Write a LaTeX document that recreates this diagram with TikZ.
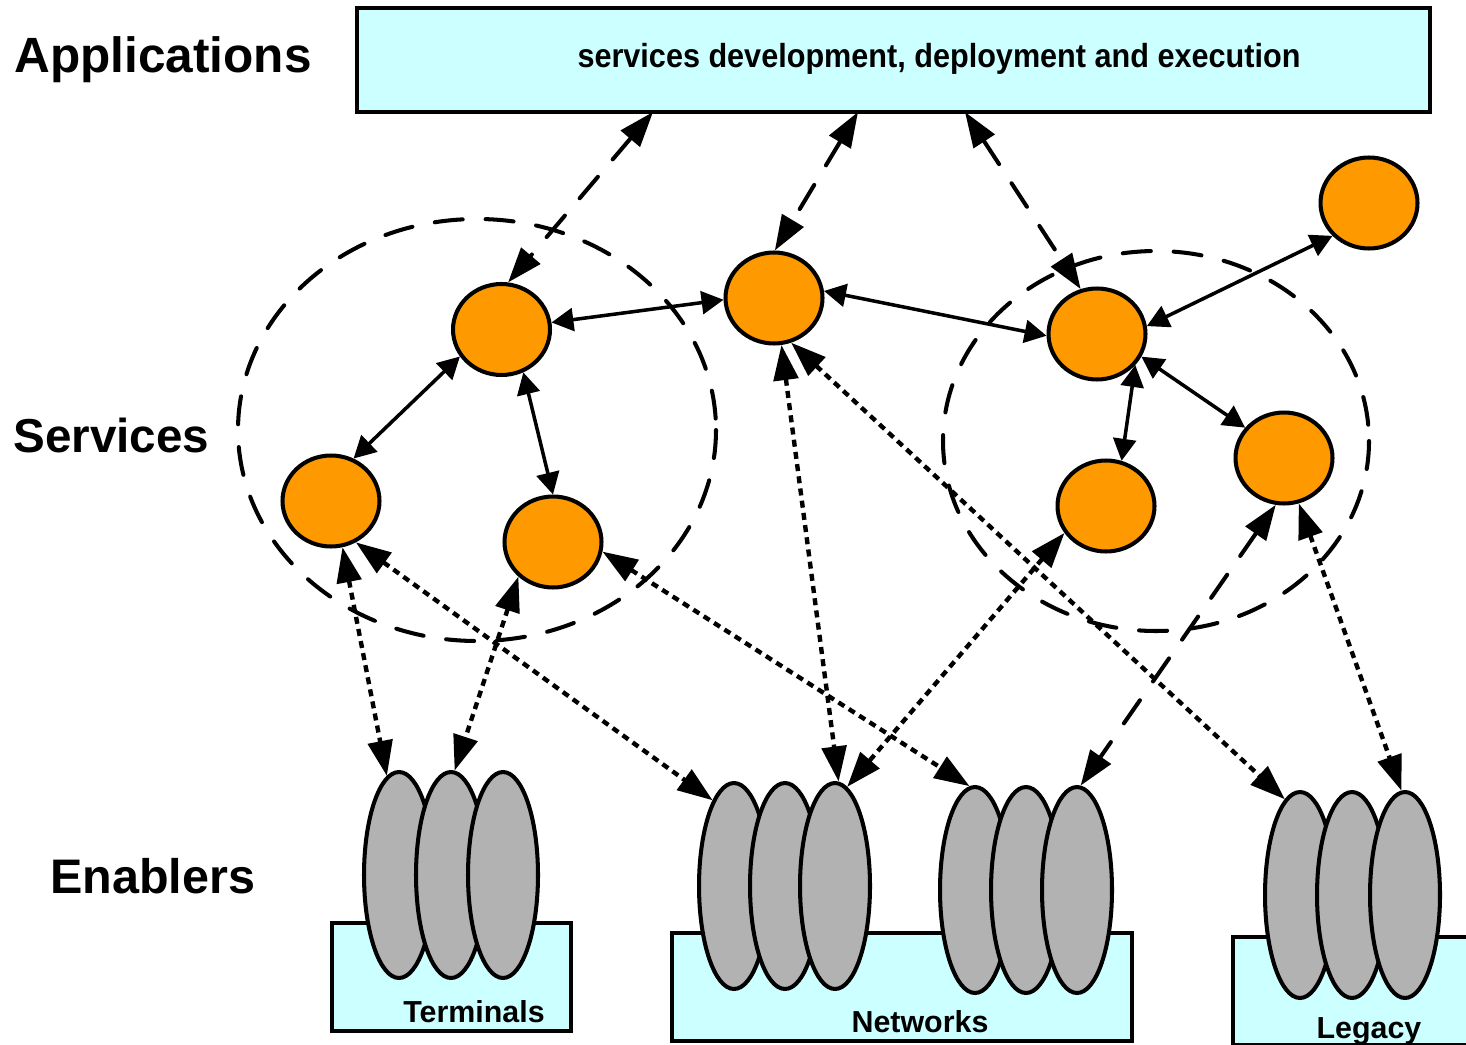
\documentclass[tikz,border=0pt]{standalone}
\usepackage{fontspec}
\setmainfont{Liberation Sans}
\usetikzlibrary{arrows.meta,shapes.geometric}
\definecolor{boxcyan}{HTML}{CCFFFF}
\definecolor{orng}{HTML}{FF9900}
\definecolor{greyfill}{HTML}{B2B2B2}
\begin{document}
\begin{tikzpicture}[x=0.02cm,y=-0.02cm,
  lw/.style={line width=2.3pt},
  cyanbox/.style={draw, lw, fill=boxcyan, rectangle, inner sep=0pt},
  svc/.style={ellipse, draw, lw, fill=orng, minimum width=1.94cm, minimum height=1.82cm, inner sep=0pt},
  enb/.style={ellipse, draw, lw, fill=greyfill, minimum width=1.40cm, minimum height=4.12cm, inner sep=0pt},
  group/.style={draw, lw, dash pattern=on 16pt off 13pt, line cap=round},
  bigtips/.style={{Triangle[length=20pt,width=14pt]}-{Triangle[length=20pt,width=14pt]}},
  smalltips/.style={{Triangle[length=12.5pt,width=13pt]}-{Triangle[length=12.5pt,width=13pt]}},
  slink/.style={line width=2pt, smalltips},
  dlink/.style={lw, bigtips, dash pattern=on 16pt off 13pt, line cap=round},
  plink/.style={line width=2.5pt, bigtips, dash pattern=on 4pt off 3pt},
  biglabel/.style={font=\fontsize{27.6}{30}\selectfont\bfseries, inner sep=0pt, anchor=base west},
  boxlabel/.style={font=\fontsize{17.3}{20}\selectfont\bfseries, inner sep=0pt, anchor=base}
]
\useasboundingbox (0,0) rectangle (1466,1044);

% layer labels
\node[biglabel, font=\fontsize{28.2}{30}\selectfont\bfseries] (lapp) at (14,73) {Applications};
\node[biglabel, font=\fontsize{27.1}{30}\selectfont\bfseries] (lsvc) at (13,452) {Services};
\node[biglabel] (lenb) at (50,893) {Enablers};

% top box
\node[cyanbox, minimum width=21.46cm, minimum height=2.08cm] (app) at (893.5,60) {};
\node[boxlabel, font=\fontsize{19}{22}\selectfont\bfseries] (apptext) at (939,68) {\scalebox{0.917}[1]{services development, deployment and execution}};
\coordinate (ap1) at (653,112);
\coordinate (ap2) at (858,112);
\coordinate (ap3) at (965,112);

% bottom boxes
\node[cyanbox, minimum width=4.78cm, minimum height=2.16cm] (termbox) at (451.5,977) {};
\node[cyanbox, minimum width=9.20cm, minimum height=2.16cm] (netbox) at (902,987) {};
\node[cyanbox, minimum width=4.78cm, minimum height=2.16cm] (legbox) at (1352.5,991) {};
\node[boxlabel] (termtext) at (474,1022) {Terminals};
\node[boxlabel] (nettext) at (920,1032) {Networks};
\node[boxlabel] (legtext) at (1369,1038) {Legacy};

% enabler stacks
\node[enb] (t1) at (399,875) {};
\node[enb] (t2) at (451,875) {};
\node[enb] (t3) at (503,875) {};
\node[enb] (n1a) at (734,886) {};
\node[enb] (n1b) at (785,886) {};
\node[enb] (n1c) at (835,886) {};
\node[enb] (n2a) at (975,890) {};
\node[enb] (n2b) at (1026,890) {};
\node[enb] (n2c) at (1077,890) {};
\node[enb] (l1) at (1300,895) {};
\node[enb] (l2) at (1352,895) {};
\node[enb] (l3) at (1405,895) {};

% service groups
\draw[group] (477,430) ellipse [x radius=239, y radius=211];
\draw[group] (1156,441) ellipse [x radius=213, y radius=190];

% services
\node[svc] (A) at (501.5,329.5) {};
\node[svc] (B) at (774,298) {};
\node[svc] (C) at (1097,334) {};
\node[svc] (D) at (1369,203) {};
\node[svc] (E) at (331,501) {};
\node[svc] (F) at (553,542) {};
\node[svc] (G) at (1106,506) {};
\node[svc] (H) at (1284,458) {};

% application links
\draw[dlink] (ap1) -- (A.82);
\draw[dlink] (ap2) -- (B.89);
\draw[dlink] (ap3) -- (C.110);
\draw[dlink] (H.260) -- (n2c.88);

% service links
\draw[slink] (A.8) -- (B.182);
\draw[slink] (B.8) -- (C.182);
\draw[slink] (C.9) -- (D.222);
\draw[slink] (A.213) -- (E.62);
\draw[slink] (A.297) -- (F.90);
\draw[slink] (C.321) -- (G.71);
\draw[slink] (C.333) -- (H.142);

% enabler links
\draw[plink] (E.284) -- (t1.97);
\draw[plink] (F.225) -- (t2.88);
\draw[plink] (E.301) -- (n1a.104);
\draw[plink] (F.349) -- (n2a.93);
\draw[plink] (B.279) -- (n1c.88);
\draw[plink] (G.213) -- (n1c.83);
\draw[plink] (B.291) -- (l1.99);
\draw[plink] (H.288) -- (l3.92);
\end{tikzpicture}
\end{document}
